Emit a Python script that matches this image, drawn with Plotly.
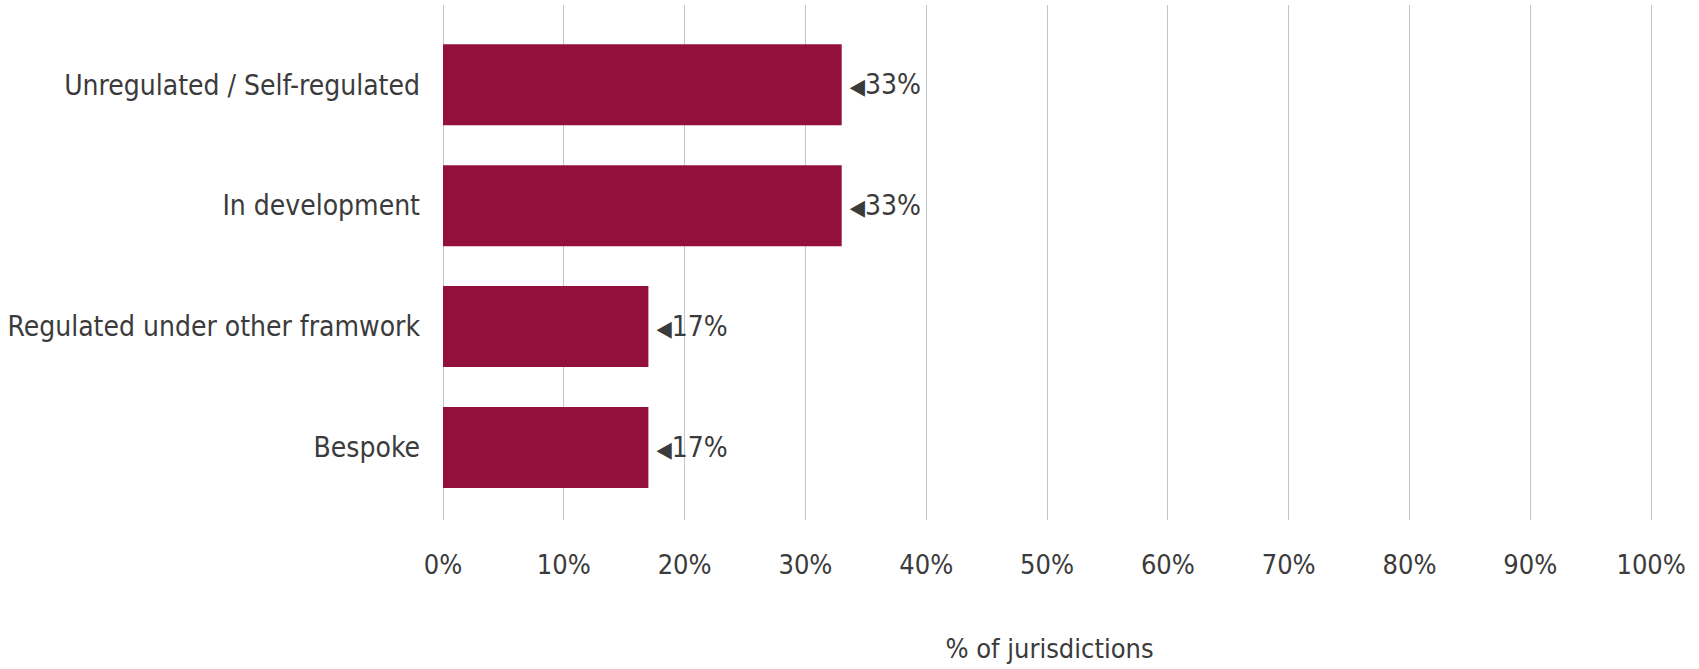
import plotly.graph_objects as go

# Regulatory status of jurisdictions (share of jurisdictions, %)
categories = [
    "Unregulated / Self-regulated",
    "In development",
    "Regulated under other framwork",
    "Bespoke",
]
shares = [33, 33, 17, 17]
tick_values = [0, 10, 20, 30, 40, 50, 60, 70, 80, 90, 100]
tick_labels = [f"{v}%" for v in tick_values]

BAR_COLOR = "#93103c"
TEXT_COLOR = "#3b3b3b"
GRID_COLOR = "#c4c4c4"
FONT = "Liberation Sans Narrow, DejaVu Sans Condensed, Roboto Condensed, Liberation Sans, sans-serif"

fig = go.Figure(
    go.Bar(
        x=shares,
        y=categories,
        orientation="h",
        width=0.67,
        marker=dict(color=BAR_COLOR, line=dict(width=0)),
        text=[f"\u2009<span style='font-size:22px'>◀</span>{v}%" for v in shares],
        textposition="outside",
        cliponaxis=False,
        textfont=dict(family=FONT, size=28, color=TEXT_COLOR),
        hoverinfo="skip",
    )
)

fig.update_layout(
    width=1699,
    height=669,
    margin=dict(l=443, r=43, t=5, b=149),
    paper_bgcolor="white",
    plot_bgcolor="white",
    showlegend=False,
    font=dict(family=FONT, color=TEXT_COLOR, size=28),
    xaxis=dict(
        range=[0, 100.4],
        tickvals=tick_values,
        ticktext=tick_labels,
        showgrid=True,
        gridcolor=GRID_COLOR,
        gridwidth=1,
        zeroline=True,
        zerolinecolor=GRID_COLOR,
        zerolinewidth=1,
        showline=False,
        ticks="",
        ticklabelstandoff=26,
        tickfont=dict(family=FONT, size=27, color=TEXT_COLOR),
        title=dict(
            text="% of jurisdictions",
            font=dict(family=FONT, size=27, color=TEXT_COLOR),
            standoff=60,
        ),
        automargin=False,
    ),
    yaxis=dict(
        type="category",
        categoryorder="array",
        categoryarray=categories,
        range=[3.6, -0.66],
        showgrid=False,
        zeroline=False,
        showline=False,
        ticks="",
        ticklabelstandoff=22,
        tickfont=dict(family=FONT, size=28, color=TEXT_COLOR),
        automargin=False,
    ),
    bargap=0.33,
)

fig.write_html("out.html")
